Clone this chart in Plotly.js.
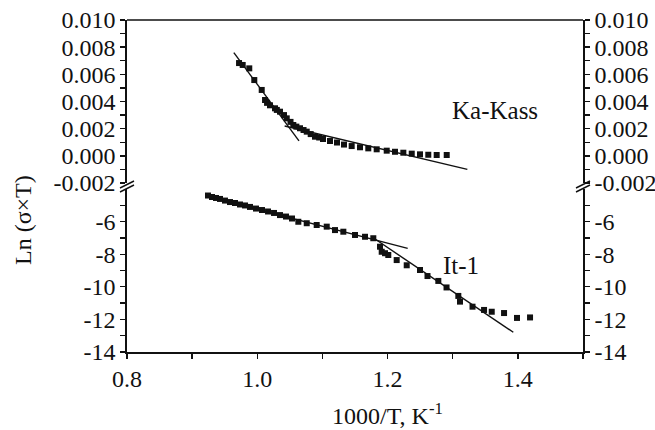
<!DOCTYPE html>
<html>
<head>
<meta charset="utf-8">
<script src="https://cdn.plot.ly/plotly-3.0.1.min.js"></script>
<style>html,body{margin:0;padding:0;background:#fff;}#chart{width:655px;height:430px;}</style>
</head>
<body>
<div id="chart"></div>
<script>
// ---- data ----
const kaX = [0.972,0.9776,0.9877,0.9954,1.0068,1.0119,1.0150,1.0195,1.0272,1.0300,1.0349,1.0410,1.0452,1.0510,1.0553,1.0600,1.0656,1.0710,1.0759,1.0820,1.0886,1.0950,1.1009,1.1116,1.1224,1.1331,1.1449,1.1577,1.1704,1.1833,1.1987,1.2114,1.2242,1.2371,1.2498,1.2625,1.2754,1.2908];
const kaY = [0.00683,0.00669,0.00644,0.00558,0.00485,0.00411,0.00390,0.00372,0.00350,0.00338,0.00325,0.00300,0.00276,0.00250,0.00227,0.00215,0.00203,0.00190,0.00178,0.00160,0.00141,0.00135,0.00124,0.00109,0.00098,0.00083,0.00072,0.00063,0.00055,0.00048,0.00038,0.00030,0.00023,0.00016,0.00011,0.00008,0.00006,0.00006];
const kaSteepX = [0.964, 1.064];
const kaSteepY = [0.0076, 0.0011];
const kaFlatX = [1.042, 1.3225];
const kaFlatY = [0.0022, -0.0010];

const itX = [0.9243,0.9305,0.9366,0.9428,0.9504,0.9581,0.9658,0.9735,0.9812,0.9888,0.9980,1.0072,1.0165,1.0257,1.0349,1.0441,1.0533,1.0630,1.0759,1.0912,1.1066,1.1193,1.1321,1.1500,1.1654,1.1781,1.1884,1.1910,1.1961,1.2011,1.2140,1.2294,1.2498,1.2613,1.2779,1.2905,1.3086,1.3112,1.3304,1.3481,1.3599,1.3788,1.3987,1.4187];
const itY = [-4.40,-4.49,-4.55,-4.61,-4.71,-4.80,-4.86,-4.95,-5.01,-5.10,-5.20,-5.29,-5.38,-5.47,-5.60,-5.69,-5.81,-6.01,-6.10,-6.21,-6.31,-6.52,-6.62,-6.82,-6.93,-7.02,-7.54,-7.85,-7.94,-8.05,-8.36,-8.68,-8.97,-9.34,-9.64,-10.04,-10.56,-10.91,-11.22,-11.42,-11.53,-11.61,-11.91,-11.88];
const itHighX = [0.9213, 1.2309];
const itHighY = [-4.43, -7.64];
const itLowX = [1.1807, 1.393];
const itLowY = [-7.07, -12.79];

// ---- tick labels ----
const xTickVals = [0.8, 1.0, 1.2, 1.4];
const xTickText = ['0.8', '1.0', '1.2', '1.4'];
const xMinorVals = [0.9, 1.1, 1.3, 1.5];
const topTickVals = [-0.002, 0, 0.002, 0.004, 0.006, 0.008, 0.010];
const topTickText = ['-0.002', '0.000', '0.002', '0.004', '0.006', '0.008', '0.010'];
const topMinorVals = [-0.001, 0.001, 0.003, 0.005, 0.007, 0.009];
const botTickVals = [-14, -12, -10, -8, -6];
const botTickText = ['-14', '-12', '-10', '-8', '-6'];
const botMinorVals = [-13, -11, -9, -7, -5];

const FONT = '"Liberation Serif", "Times New Roman", serif';
const INK = '#111';

// plot area in pixels
const L = 127, R = 583, T = 20, B = 352;
const px = v => (v - L) / (R - L);
const py = v => (B - v) / (B - T);

const markerStyle = {symbol: 'square', size: 6, color: INK};
const lineStyle = {color: INK, width: 1.4};

const traces = [
  {x: kaX, y: kaY, xaxis: 'x', yaxis: 'y2', mode: 'markers', marker: markerStyle, hoverinfo: 'x+y'},
  {x: kaSteepX, y: kaSteepY, xaxis: 'x', yaxis: 'y2', mode: 'lines', line: lineStyle},
  {x: kaFlatX, y: kaFlatY, xaxis: 'x', yaxis: 'y2', mode: 'lines', line: lineStyle},
  {x: itX, y: itY, xaxis: 'x', yaxis: 'y', mode: 'markers', marker: markerStyle},
  {x: itHighX, y: itHighY, xaxis: 'x', yaxis: 'y', mode: 'lines', line: lineStyle},
  {x: itLowX, y: itLowY, xaxis: 'x', yaxis: 'y', mode: 'lines', line: lineStyle},
  {x: [], y: [], xaxis: 'x', yaxis: 'y3', mode: 'markers'},
  {x: [], y: [], xaxis: 'x', yaxis: 'y4', mode: 'markers'}
];

const tickFont = {family: FONT, size: 24, color: INK};
function yAx(extra) {
  return Object.assign({
    showline: true, linecolor: INK, linewidth: 1.6, zeroline: false, showgrid: false,
    ticks: 'outside', ticklen: 5, tickwidth: 1.4, tickcolor: INK, tickfont: tickFont,
    tickmode: 'array', fixedrange: true
  }, extra);
}
const botDomain = [0, py(189)];
const topDomain = [py(183), 1];

const layout = {
  width: 655, height: 430,
  margin: {l: L, r: 655 - R, t: T, b: 430 - B, pad: 0},
  paper_bgcolor: '#fff', plot_bgcolor: '#fff',
  showlegend: false,
  font: {family: FONT, color: INK},
  xaxis: {
    range: [0.8, 1.5], anchor: 'y', domain: [0, 1],
    showline: true, linecolor: INK, linewidth: 1.6, zeroline: false, showgrid: false,
    ticks: 'outside', ticklen: 5, tickwidth: 1.4, tickcolor: INK,
    tickmode: 'array', tickvals: xTickVals, ticktext: xTickText, tickfont: tickFont,
    minor: {tickmode: 'array', tickvals: xMinorVals, ticks: 'outside', ticklen: 5, tickwidth: 1.4, tickcolor: INK, showgrid: false}
  },
  yaxis: yAx({domain: botDomain, range: [-14, -4], side: 'left', anchor: 'x',
    tickvals: botTickVals, ticktext: botTickText,
    minor: {tickmode: 'array', tickvals: botMinorVals, ticks: 'outside', ticklen: 5, tickwidth: 1.4, tickcolor: INK, showgrid: false}}),
  yaxis2: yAx({domain: topDomain, range: [-0.002, 0.010], side: 'left', anchor: 'x',
    tickvals: topTickVals, ticktext: topTickText,
    minor: {tickmode: 'array', tickvals: topMinorVals, ticks: 'outside', ticklen: 5, tickwidth: 1.4, tickcolor: INK, showgrid: false}}),
  yaxis3: yAx({overlaying: 'y', range: [-14, -4], side: 'right', anchor: 'x',
    tickvals: botTickVals, ticktext: botTickText,
    minor: {tickmode: 'array', tickvals: botMinorVals, ticks: 'outside', ticklen: 5, tickwidth: 1.4, tickcolor: INK, showgrid: false}}),
  yaxis4: yAx({overlaying: 'y2', range: [-0.002, 0.010], side: 'right', anchor: 'x',
    tickvals: topTickVals, ticktext: topTickText,
    minor: {tickmode: 'array', tickvals: topMinorVals, ticks: 'outside', ticklen: 5, tickwidth: 1.4, tickcolor: INK, showgrid: false}}),
  shapes: [
    {type: 'line', xref: 'paper', yref: 'paper', x0: 0, x1: 1, y0: 1, y1: 1, line: {color: INK, width: 1.6}},
    // axis break marks
    {type: 'line', xref: 'paper', yref: 'paper', x0: px(120), x1: px(134), y0: py(188), y1: py(181), line: {color: INK, width: 1.4}},
    {type: 'line', xref: 'paper', yref: 'paper', x0: px(120), x1: px(134), y0: py(192), y1: py(185), line: {color: INK, width: 1.4}},
    {type: 'line', xref: 'paper', yref: 'paper', x0: px(576), x1: px(590), y0: py(188), y1: py(181), line: {color: INK, width: 1.4}},
    {type: 'line', xref: 'paper', yref: 'paper', x0: px(576), x1: px(590), y0: py(192), y1: py(185), line: {color: INK, width: 1.4}}
  ],
  annotations: [
    {text: 'Ka-Kass', xref: 'paper', yref: 'paper', x: px(495), y: py(110), showarrow: false, xanchor: 'center', yanchor: 'middle', font: {family: FONT, size: 25, color: INK}},
    {text: 'It-1', xref: 'paper', yref: 'paper', x: px(461), y: py(265), showarrow: false, xanchor: 'center', yanchor: 'middle', font: {family: FONT, size: 25, color: INK}},
    {text: 'Ln (σ×T)', xref: 'paper', yref: 'paper', x: px(23), y: py(220), textangle: -90, showarrow: false, xanchor: 'center', yanchor: 'middle', font: {family: FONT, size: 24, color: INK}},
    {text: '1000/T, K<sup>-1</sup>', xref: 'paper', yref: 'paper', x: px(387), y: py(414), showarrow: false, xanchor: 'center', yanchor: 'middle', font: {family: FONT, size: 24, color: INK}}
  ]
};

Plotly.newPlot('chart', traces, layout, {staticPlot: true, displayModeBar: false});
</script>
</body>
</html>
